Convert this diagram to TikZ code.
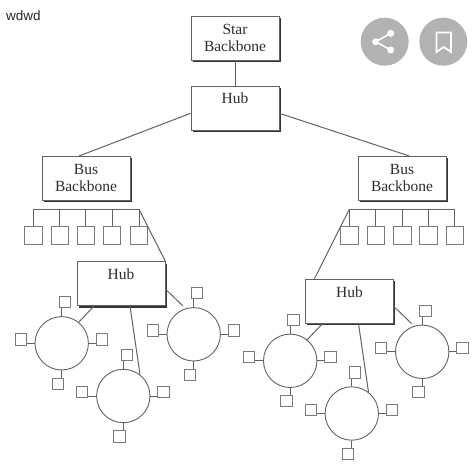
\documentclass[tikz,border=0pt]{standalone}
\usepackage{fontspec}
\setmainfont{Liberation Serif}
\newfontfamily\uifont{Liberation Sans}
\usetikzlibrary{calc,shadows}
\definecolor{wire}{HTML}{626262}
\definecolor{ink}{HTML}{2E2E2E}
\definecolor{badge}{HTML}{B2B2B2}
\tikzset{
  wireline/.style={draw=wire,line width=1pt},
  boxnode/.style={draw=wire,line width=0.8pt,fill=white,minimum width=88pt,minimum height=44pt,inner sep=0pt,
    align=center,text=ink,font=\fontsize{15.5}{17}\selectfont,
    drop shadow={shadow xshift=1.9pt,shadow yshift=-1.9pt,opacity=1,fill=black!80}},
  labeltext/.style={inner sep=0pt,text=ink,font=\fontsize{15.5}{17}\selectfont},
  station/.style={draw=wire!85,line width=0.9pt,fill=white,minimum size=17.5pt,inner sep=0pt},
  tinystation/.style={draw=wire!85,line width=0.9pt,fill=white,minimum size=11.2pt,inner sep=0pt},
  ringnode/.style={circle,draw=wire,line width=0.9pt,fill=white,minimum size=53.4pt,inner sep=0pt},
  badgenode/.style={circle,fill=badge,minimum size=48pt,inner sep=0pt},
  icondot/.style={circle,fill=white,minimum size=7pt,inner sep=0pt}
}
\begin{document}
\begin{tikzpicture}[x=1pt,y=-1pt]
\useasboundingbox (0,0) rectangle (474,466);
\node[inner sep=0pt,anchor=west,text=black!85,font=\uifont\fontsize{13.5}{15}\selectfont] (tag) at (6,16) {wdwd};

% badges
\node[badgenode] (share) at (384.7,41.7) {};
\node[badgenode] (mark) at (443.3,41.7) {};
\node[icondot] (sa) at (390.7,33.3) {};
\node[icondot] (sb) at (375.7,41.7) {};
\node[icondot] (sc) at (390.7,50) {};
\draw[white,line width=1.5pt] (sa.center) -- (sb.center) -- (sc.center);
\draw[white,line width=1.8pt,line join=miter] (436.5,32.5) -- (451,32.5) -- (451,52) -- (443.8,47) -- (436.5,52) -- cycle;

% top
\node[boxnode] (star) at (235,38) {Star\\Backbone};
\node[boxnode] (tophub) at (235,108) {};
\node[labeltext] (tophubtext) at (235,98) {Hub};
\draw[wireline] (star.south) -- (tophub.north);

% bus boxes
\node[boxnode] (Lbus) at (86,178) {Bus\\Backbone};
\node[boxnode] (Rbus) at (402,178) {Bus\\Backbone};
\draw[wireline] ($(tophub.west)+(0,5.3)$) -- (79,156);
\draw[wireline] ($(tophub.east)+(0,5.3)$) -- (409.3,156);

% station rows
\coordinate (Lrail) at (33.3,209.3);
\coordinate (Rrail) at (349.3,209.3);
\foreach \n/\xx in {1/33.3,2/59.7,3/85.7,4/112,5/139}{
  \node[station] (Ls\n) at (\xx,235.3) {};
  \draw[wireline] (Ls\n.north |- Lrail) -- (Ls\n.north);
}
\foreach \n/\xx in {1/349.3,2/375.7,3/402.3,4/428.3,5/454.7}{
  \node[station] (Rs\n) at (\xx,235.3) {};
  \draw[wireline] (Rs\n.north |- Rrail) -- (Rs\n.north);
}
\draw[wireline] (Ls1.north |- Lrail) -- (Ls5.north |- Lrail);
\draw[wireline] (Rs1.north |- Rrail) -- (Rs5.north |- Rrail);

% hub clusters
\foreach \p/\dx/\dy in {L/0/0,R/228.5/17.5}{
\begin{scope}[shift={(\dx,\dy)}]
  \node[boxnode] (\p hub) at (121,283.7) {};
  \node[labeltext] (\p hubtext) at (121,274.3) {Hub};
  \foreach \r/\cx/\cy in {a/61.7/343.3,b/123.3/396,c/193.7/334.3}{
    \node[ringnode] (\p\r) at (\cx,\cy) {};
    \node[tinystation] (\p\r t) at (\cx+3.3,\cy-41) {};
    \node[tinystation] (\p\r w) at (\cx-41,\cy-3.8) {};
    \node[tinystation] (\p\r e) at (\cx+40.2,\cy-3.8) {};
    \node[tinystation] (\p\r s) at (\cx-3.8,\cy+40.4) {};
    \draw[wireline] (\p\r.north) -- (\p\r.north |- \p\r t.south);
    \draw[wireline] (\p\r.west) -- (\p\r w.east |- \p\r.west);
    \draw[wireline] (\p\r.east) -- (\p\r e.west |- \p\r.east);
    \draw[wireline] (\p\r.south) -- (\p\r.south |- \p\r s.north);
  }
  \draw[wireline] ($(\p hub.south west)+(17.3,0)$) -- (\p a.51);
  \draw[wireline] ($(\p hub.south)+(9,0)$) -- (\p b.52);
  \coordinate (\p end) at (183,306);
  \draw[wireline] ($(\p hub.east)+(0,5.3)$) -- (\p end);
\end{scope}
}
\draw[wireline] (Ls5.north |- Lrail) -- (Lhub.north east);
\draw[wireline] (Rs1.north |- Rrail) -- ($(Rhub.north west)+(9.3,0)$);
\end{tikzpicture}
\end{document}
